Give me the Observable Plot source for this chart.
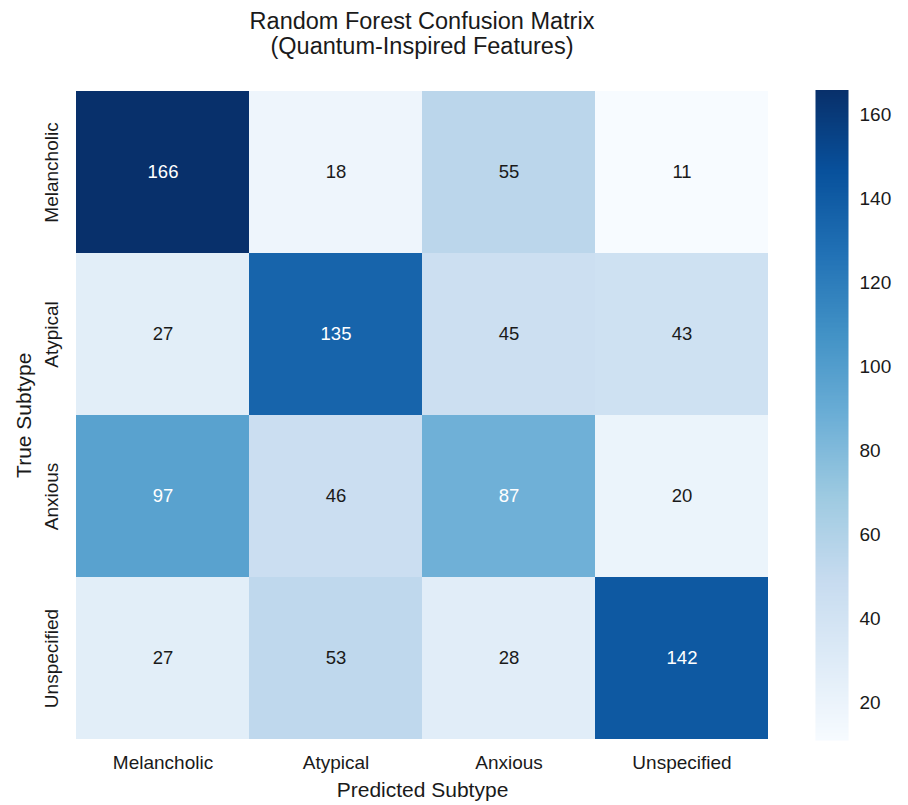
<!DOCTYPE html>
<html>
<head>
<meta charset="utf-8">
<script src="https://cdn.jsdelivr.net/npm/d3@7"></script>
<script src="https://cdn.jsdelivr.net/npm/@observablehq/plot@0.6"></script>
<style>
  body { margin: 0; background: #fff; font-family: "Liberation Sans", Arial, sans-serif; }
  #wrap { position: relative; width: 908px; height: 805px; }
  #title { position: absolute; left: 75px; width: 694px; top: 9px; text-align: center;
           font-size: 23.5px; line-height: 25px; color: #1a1a1a; }
  #main { position: absolute; left: 0; top: 0; }
  #bar { position: absolute; left: 780px; top: 0; }
</style>
</head>
<body>
<div id="wrap">
  <div id="title">Random Forest Confusion Matrix<br>(Quantum-Inspired Features)</div>
  <div id="main"></div>
  <div id="bar"></div>
</div>
<script>
// Subtype labels (same order for predicted columns and true rows)
const subtypes = ["Melancholic", "Atypical", "Anxious", "Unspecified"];
// Confusion counts: one row per true subtype, one column per predicted subtype
const melancholicRow = [166, 18, 55, 11];
const atypicalRow = [27, 135, 45, 43];
const anxiousRow = [97, 46, 87, 20];
const unspecifiedRow = [27, 53, 28, 142];
const colorbarTicks = [20, 40, 60, 80, 100, 120, 140, 160];
// ColorBrewer Blues stops (piecewise linear, as matplotlib "Blues")
const blues = ["#f7fbff", "#deebf7", "#c6dbef", "#9ecae1", "#6baed6", "#4292c6", "#2171b5", "#08519c", "#08306b"];

const rows = [melancholicRow, atypicalRow, anxiousRow, unspecifiedRow];
const cells = rows.flatMap((r, i) => r.map((v, j) => ({actual: subtypes[i], predicted: subtypes[j], value: v})));
const vmin = d3.min(cells, d => d.value);
const vmax = d3.max(cells, d => d.value);
const stops = blues.map((_, i) => vmin + (i * (vmax - vmin)) / (blues.length - 1));
const color = {type: "linear", domain: stops, range: blues, interpolate: "rgb"};

// choose white or dark annotation by background luminance
const bg = d3.scaleLinear().domain(stops).range(blues).interpolate(d3.interpolateRgb);
function luminance(c) {
  const {r, g, b} = d3.rgb(c);
  const f = v => { v /= 255; return v <= 0.03928 ? v / 12.92 : Math.pow((v + 0.055) / 1.055, 2.4); };
  return 0.2126 * f(r) + 0.7152 * f(g) + 0.0722 * f(b);
}
const isDark = d => luminance(bg(d.value)) < 0.408;

const font = {fontFamily: "'Liberation Sans', Arial, sans-serif", fontSize: "19px", color: "#1a1a1a", background: "transparent"};

const main = Plot.plot({
  width: 780,
  height: 805,
  marginTop: 89.5,
  marginBottom: 65,
  marginLeft: 75,
  marginRight: 11,
  style: font,
  x: {domain: subtypes, padding: 0, label: null},
  y: {domain: subtypes, padding: 0, label: null},
  color,
  marks: [
    Plot.cell(cells, {x: "predicted", y: "actual", fill: "value", inset: 0}),
    Plot.text(cells.filter(isDark), {x: "predicted", y: "actual", text: d => String(d.value), fill: "white", fontSize: 18.5}),
    Plot.text(cells.filter(d => !isDark(d)), {x: "predicted", y: "actual", text: d => String(d.value), fill: "#1a1a1a", fontSize: 18.5}),
    Plot.axisX({tickSize: 0, tickPadding: 15, fontSize: 19, label: null}),
    Plot.axisY({tickSize: 0, tickPadding: 24, tickRotate: -90, textAnchor: "middle", lineAnchor: "middle", fontSize: 19, label: null}),
    Plot.text(["Predicted Subtype"], {frameAnchor: "bottom", lineAnchor: "middle", textAnchor: "middle", dy: 50, fontSize: 21, fill: "#1a1a1a"}),
    Plot.text(["True Subtype"], {frameAnchor: "left", lineAnchor: "middle", textAnchor: "middle", dx: -51, rotate: -90, fontSize: 21, fill: "#1a1a1a"})
  ]
});
document.getElementById("main").append(main);

const bar = Plot.plot({
  width: 128,
  height: 805,
  marginTop: 89.5,
  marginBottom: 65,
  marginLeft: 35,
  marginRight: 60,
  style: font,
  x: {domain: [0, 1], axis: null},
  y: {domain: [vmin, vmax], label: null},
  color,
  marks: [
    Plot.raster({x1: 0, x2: 1, y1: vmin, y2: vmax, width: 1, height: 400, fill: (x, y) => y, imageRendering: "auto"}),
    Plot.axisY(colorbarTicks, {anchor: "right", tickSize: 0, tickPadding: 11, fontSize: 19, label: null})
  ]
});
document.getElementById("bar").append(bar);
</script>
</body>
</html>
